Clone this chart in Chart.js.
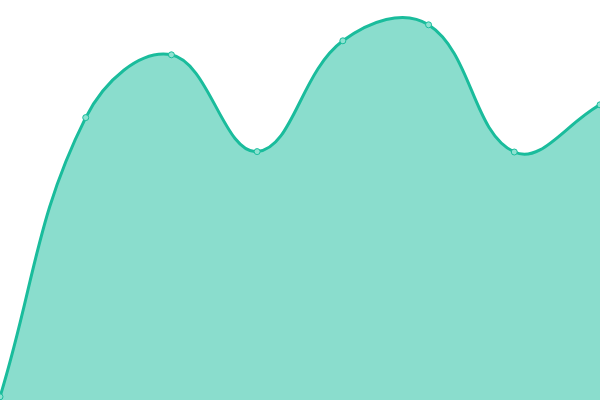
<!DOCTYPE html>
<html>
<head>
<meta charset="utf-8">
<script src="https://cdn.jsdelivr.net/npm/chart.js@4"></script>
<style>
html,body{margin:0;padding:0;background:#fff;}
#wrap{width:600px;height:400px;}
</style>
</head>
<body>
<div id="wrap"><canvas id="c"></canvas></div>
<script>
const categories = ["1", "2", "3", "4", "5", "6", "7", "8"];
const values = [0.8, 70.6, 86.3, 62.1, 89.8, 93.8, 62.0, 73.8];

new Chart(document.getElementById('c'), {
  type: 'line',
  data: {
    labels: categories,
    datasets: [{
      data: values,
      borderColor: '#1abc9c',
      backgroundColor: 'rgba(26,188,156,0.51)',
      borderWidth: 3,
      fill: true,
      tension: 0.4,
      pointRadius: 3,
      pointBorderWidth: 1,
      pointBackgroundColor: '#8ee2d1',
      pointBorderColor: '#1abc9c'
    }]
  },
  options: {
    responsive: true,
    maintainAspectRatio: false,
    animation: false,
    layout: { padding: 0, autoPadding: false },
    plugins: { legend: { display: false }, tooltip: { enabled: false } },
    scales: {
      x: { display: false, offset: false },
      y: { display: false, min: 0, max: 100 }
    }
  }
});
</script>
</body>
</html>
